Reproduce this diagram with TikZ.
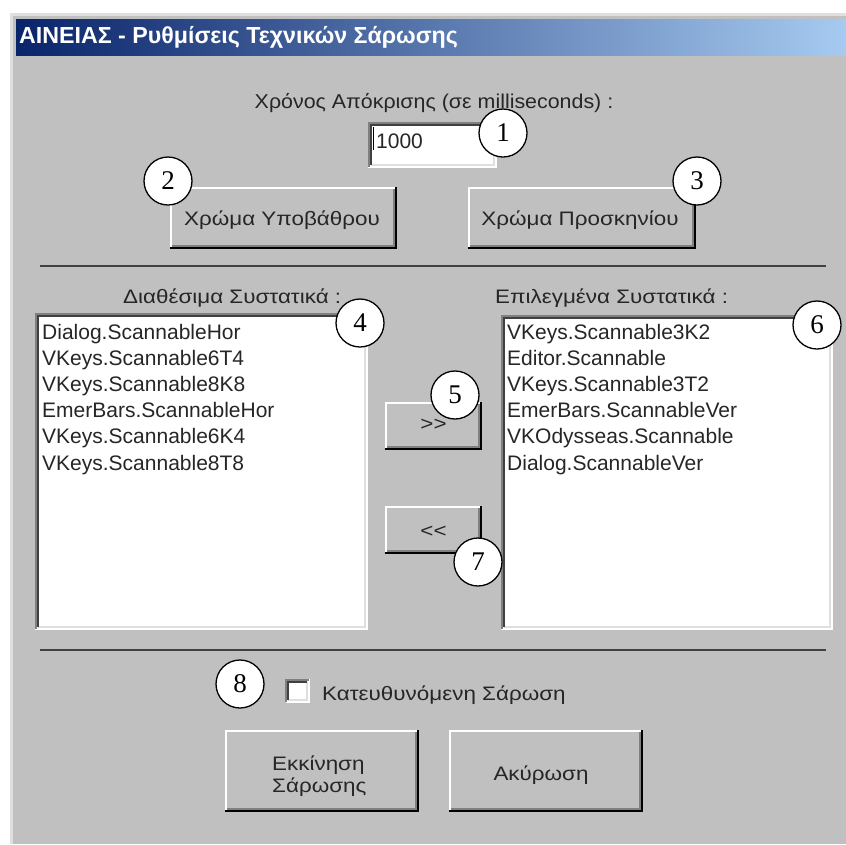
\documentclass[tikz,border=0pt]{standalone}
\usepackage{fontspec}
\setmainfont{Liberation Serif}
\newfontfamily\uifont{Liberation Sans}
\newfontfamily\uiwide[FakeStretch=1.15]{Liberation Sans}
\newfontfamily\uimid[FakeStretch=1.07]{Liberation Sans}
\usetikzlibrary{calc}
\definecolor{face}{HTML}{C0C0C0}
\definecolor{shadowgray}{HTML}{808080}
\definecolor{lightgray}{HTML}{DFDFDF}
\definecolor{darkline}{HTML}{404040}
\definecolor{navy}{HTML}{0A246A}
\definecolor{skyblue}{HTML}{A6CAF0}
\newcommand\raisededge[1]{%
  \draw[white,line width=2pt] ($(#1.south west)+(1,-2)$) -- ($(#1.north west)+(1,1)$) -- ($(#1.north east)+(-2,1)$);
  \draw[black,line width=2pt] ($(#1.south west)+(0,-1)$) -- ($(#1.south east)+(-1,-1)$) -- ($(#1.north east)+(-1,0)$);
  \draw[shadowgray,line width=2pt] ($(#1.south west)+(2,-3)$) -- ($(#1.south east)+(-3,-3)$) -- ($(#1.north east)+(-3,2)$);
}
\newcommand\sunkenedge[1]{%
  \draw[white,line width=2pt] ($(#1.south west)+(1,-1)$) -- ($(#1.south east)+(-1,-1)$) -- ($(#1.north east)+(-1,1)$);
  \draw[lightgray,line width=2pt] ($(#1.south west)+(3,-3)$) -- ($(#1.south east)+(-3,-3)$) -- ($(#1.north east)+(-3,3)$);
  \draw[shadowgray,line width=2pt] ($(#1.south west)+(1,-1)$) -- ($(#1.north west)+(1,1)$) -- ($(#1.north east)+(-1,1)$);
  \draw[darkline,line width=2pt] ($(#1.south west)+(3,-3)$) -- ($(#1.north west)+(3,3)$) -- ($(#1.north east)+(-3,3)$);
}
\tikzset{
  uitext/.style={inner sep=0pt, text=black!85, font=\uiwide\fontsize{19.5}{23}\selectfont},
  uitextmid/.style={inner sep=0pt, text=black!85, font=\uimid\fontsize{20}{24}\selectfont},
  listtext/.style={inner sep=0pt, anchor=base west, text=black!85, font=\uifont\fontsize{21}{25}\selectfont},
  winbtn/.style={rectangle, fill=face, inner sep=0pt},
  whitebox/.style={rectangle, fill=white, inner sep=0pt},
  callout/.style={circle, draw=black, line width=1.3pt, fill=white, minimum size=48pt, inner sep=0pt, font=\fontsize{27}{30}\selectfont},
  sepline/.style={darkline, line width=2.2pt}
}
\begin{document}
\begin{tikzpicture}[x=1pt,y=-1pt]
\useasboundingbox (0,0) rectangle (846,844);
\fill[white] (0,0) rectangle (846,844);
% window
\fill[face] (10,13) rectangle (846,844);
\draw[lightgray,line width=3pt] (11.5,844) -- (11.5,14.5) -- (846,14.5);
\shade[left color=navy, right color=skyblue] (16,19) rectangle (846,55);
\node[anchor=west, inner sep=0pt, text=white, font=\uifont\bfseries\fontsize{23.2}{27}\selectfont] (title) at (19,37) {ΑΙΝΕΙΑΣ - Ρυθμίσεις Τεχνικών Σάρωσης};
% response time
\node[uitextmid, anchor=base] (rtlabel) at (434,108) {Χρόνος Απόκρισης (σε milliseconds) :};
\node[whitebox, minimum width=129pt, minimum height=46pt] (rtbox) at (432.5,145) {};
\sunkenedge{rtbox}
\node[listtext] (rtval) at (376,148) {1000};
\draw[black,line width=1pt] (373.5,127) -- (373.5,150);
% colour buttons
\node[winbtn, minimum width=227pt, minimum height=62pt] (bgbtn) at (283.5,218) {};
\raisededge{bgbtn}
\node[uitext, anchor=base] (bgtext) at (282,225) {Χρώμα Υποβάθρου};
\node[winbtn, minimum width=227pt, minimum height=62pt] (fgbtn) at (582,218) {};
\raisededge{fgbtn}
\node[uitext, anchor=base] (fgtext) at (580,225) {Χρώμα Προσκηνίου};
% separator
\draw[sepline] (40,266) -- (826,266);
% lists
\node[uitext, anchor=base west] (availlabel) at (123,303) {Διαθέσιμα Συστατικά :};
\node[uitext, anchor=base west] (sellabel) at (495,303) {Επιλεγμένα Συστατικά :};
\node[whitebox, minimum width=333pt, minimum height=317pt] (availbox) at (201.5,471.5) {};
\sunkenedge{availbox}
\node[whitebox, minimum width=332pt, minimum height=315pt] (selbox) at (667,472.5) {};
\sunkenedge{selbox}
\node[listtext] (a1) at (42,339) {Dialog.ScannableHor};
\node[listtext] (a2) at (42,365.2) {VKeys.Scannable6T4};
\node[listtext] (a3) at (42,391.4) {VKeys.Scannable8K8};
\node[listtext] (a4) at (42,417.6) {EmerBars.ScannableHor};
\node[listtext] (a5) at (42,443.8) {VKeys.Scannable6K4};
\node[listtext] (a6) at (42,470) {VKeys.Scannable8T8};
\node[listtext] (s1) at (507,339) {VKeys.Scannable3K2};
\node[listtext] (s2) at (507,365.2) {Editor.Scannable};
\node[listtext] (s3) at (507,391.4) {VKeys.Scannable3T2};
\node[listtext] (s4) at (507,417.6) {EmerBars.ScannableVer};
\node[listtext] (s5) at (507,443.8) {VKOdysseas.Scannable};
\node[listtext] (s6) at (507,470) {Dialog.ScannableVer};
% move buttons
\node[winbtn, minimum width=97pt, minimum height=48pt] (addbtn) at (433.5,426) {};
\raisededge{addbtn}
\node[uitext, anchor=center] (addtext) at (433.5,425) {>>};
\node[winbtn, minimum width=97pt, minimum height=48pt] (rembtn) at (433.5,530) {};
\raisededge{rembtn}
\node[uitext, anchor=center] (remtext) at (433.5,532) {<<};
% separator
\draw[sepline] (40,650) -- (826,650);
% checkbox
\node[whitebox, minimum width=24pt, minimum height=24pt] (chk) at (297.5,691) {};
\sunkenedge{chk}
\node[uitext, anchor=base west] (chklabel) at (322,700) {Κατευθυνόμενη Σάρωση};
% bottom buttons
\node[winbtn, minimum width=194pt, minimum height=82pt] (startbtn) at (322,771) {};
\raisededge{startbtn}
\node[uitext, anchor=base west] (starttext1) at (272,770) {Εκκίνηση};
\node[uitext, anchor=base west] (starttext2) at (272,792) {Σάρωσης};
\node[winbtn, minimum width=194pt, minimum height=82pt] (cancelbtn) at (546,771) {};
\raisededge{cancelbtn}
\node[uitext, anchor=base] (canceltext) at (541,780) {Ακύρωση};
% callouts
\node[callout] (c1) at (503,133) {1};
\node[callout] (c2) at (168,181) {2};
\node[callout] (c3) at (697,181) {3};
\node[callout] (c4) at (360,323) {4};
\node[callout] (c5) at (455,395) {5};
\node[callout] (c6) at (817,325) {6};
\node[callout] (c7) at (478,562) {7};
\node[callout] (c8) at (240,684) {8};
\end{tikzpicture}
\end{document}
